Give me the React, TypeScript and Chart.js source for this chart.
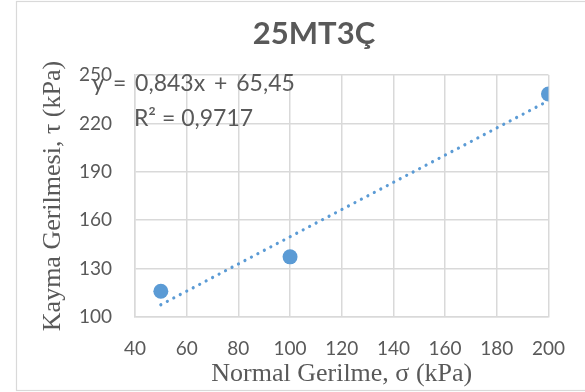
import React, { useEffect, useRef } from "react";
import { Chart, registerables } from "chart.js";

Chart.register(...registerables);

const chartTitle = "25MT3Ç";
const xAxisTitle = "Normal Gerilme, σ (kPa)";
const yAxisTitle = "Kayma Gerilmesi, τ (kPa)";

const normalStress = [50, 100, 200];
const shearStress = [116.0, 137.3, 238.2];

const trendStress = [50, 200];
const trendShear = [107.6, 234.05];

const xTickMin = 40;
const xTickMax = 200;
const xTickStep = 20;
const yTickMin = 100;
const yTickMax = 250;
const yTickStep = 30;

const equationLines = ["y = 0,843x + 65,45", "R² = 0,9717"];

const TEXT = "#595959";
const GRID = "#d9d9d9";
const BLUE = "#5b9bd5";

const decorPlugin = {
  id: "decor",
  beforeDraw(chart: any) {
    const ctx = chart.ctx;
    ctx.save();
    ctx.fillStyle = "#ffffff";
    ctx.fillRect(0, 0, chart.width, chart.height);
    ctx.strokeStyle = GRID;
    ctx.lineWidth = 1.2;
    ctx.strokeRect(16.5, 1.5, 620, 389);
    ctx.restore();
  },
  afterDraw(chart: any) {
    const ctx = chart.ctx;
    ctx.save();
    ctx.fillStyle = TEXT;
    ctx.textAlign = "center";
    ctx.textBaseline = "middle";
    ctx.font = "bold 31px Lato";
    ctx.fillText(chartTitle, 314, 34);
    ctx.font = "23px Lato";
    ctx.textBaseline = "alphabetic";
    try {
      ctx.wordSpacing = "3px";
    } catch (e) {}
    ctx.fillText(equationLines[0], 193.5, 91);
    try {
      ctx.wordSpacing = "0px";
    } catch (e) {}
    ctx.fillText(equationLines[1], 193.5, 126);
    ctx.restore();
  },
};

export default function App() {
  const canvasRef = useRef<HTMLCanvasElement>(null);

  useEffect(() => {
    const canvas = canvasRef.current;
    if (!canvas) return;
    const chart = new Chart(canvas, {
      type: "scatter",
      data: {
        datasets: [
          {
            label: "data",
            data: normalStress.map((x, i) => ({ x, y: shearStress[i] })),
            backgroundColor: BLUE,
            borderColor: BLUE,
            borderWidth: 0,
            pointRadius: 7.5,
            order: 0,
          },
          {
            label: "trend",
            type: "line",
            data: trendStress.map((x, i) => ({ x, y: trendShear[i] })),
            showLine: true,
            borderColor: BLUE,
            borderWidth: 3.2,
            borderDash: [0.01, 7.3],
            borderCapStyle: "round",
            pointRadius: 0,
            fill: false,
            order: 1,
          } as any,
        ],
      },
      options: {
        responsive: false,
        animation: false,
        layout: { padding: { top: 75, right: 33, bottom: 0, left: 0 } },
        plugins: {
          legend: { display: false },
          title: { display: false },
          tooltip: { enabled: false },
        },
        scales: {
          x: {
            type: "linear",
            min: xTickMin,
            max: xTickMax,
            afterFit: (scale: any) => {
              scale.height = 75;
            },
            ticks: {
              stepSize: xTickStep,
              color: TEXT,
              font: { family: "Lato", size: 19 },
              padding: 20,
            },
            grid: { color: GRID, lineWidth: 1.5, drawTicks: false },
            border: { color: GRID, width: 1.5 },
            title: {
              display: true,
              text: xAxisTitle,
              color: TEXT,
              font: { family: "'Liberation Serif', 'Times New Roman', serif", size: 26 },
              padding: { top: 0, bottom: 2 },
            },
          },
          y: {
            type: "linear",
            min: yTickMin,
            max: yTickMax,
            afterFit: (scale: any) => {
              scale.width = 135;
            },
            ticks: {
              stepSize: yTickStep,
              color: TEXT,
              font: { family: "Lato", size: 19 },
              padding: 23,
            },
            grid: { color: GRID, lineWidth: 1.5, drawTicks: false },
            border: { color: GRID, width: 1.5 },
            title: {
              display: true,
              text: yAxisTitle,
              color: TEXT,
              font: { family: "'Liberation Serif', 'Times New Roman', serif", size: 26 },
              padding: { top: 38, bottom: 0 },
            },
          },
        },
      },
      plugins: [decorPlugin],
    });
    return () => chart.destroy();
  }, []);

  return (
    <div style={{ position: "absolute", left: 0, top: 0, width: 585, height: 392 }}>
      <canvas ref={canvasRef} width={585} height={392} />
    </div>
  );
}
